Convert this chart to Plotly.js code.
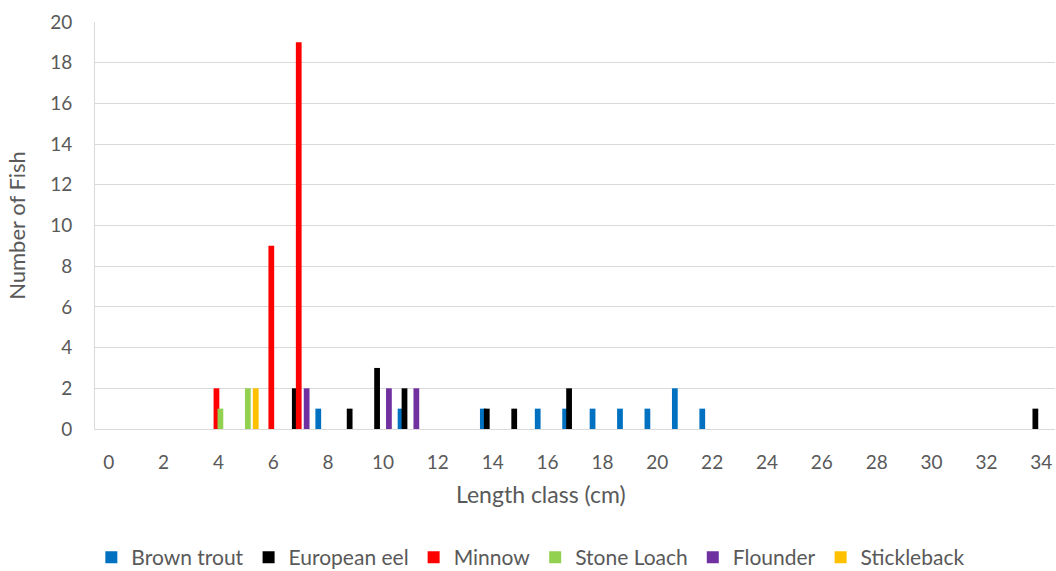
<!DOCTYPE html>
<html>
<head>
<meta charset="utf-8">
<script src="https://cdn.plot.ly/plotly-3.0.1.min.js"></script>
<style>
  html, body { margin: 0; padding: 0; background: #ffffff; }
  #chart { width: 1056px; height: 571px; }
</style>
</head>
<body>
<div id="chart"></div>
<script>
// Length classes (cm), one category per centimetre
const lengthClasses = Array.from({length: 35}, (_, i) => i);

// Number of fish caught in each length class, per species
const brownTrout  = [0,0,0,0,0,0,0,0,1,0,0,1,0,0,1,0,1,1,1,1,1,2,1,0,0,0,0,0,0,0,0,0,0,0,0];
const europeanEel = [0,0,0,0,0,0,0,2,0,1,3,2,0,0,1,1,0,2,0,0,0,0,0,0,0,0,0,0,0,0,0,0,0,0,1];
const minnow      = [0,0,0,0,2,0,9,19,0,0,0,0,0,0,0,0,0,0,0,0,0,0,0,0,0,0,0,0,0,0,0,0,0,0,0];
const stoneLoach  = [0,0,0,0,1,2,0,0,0,0,0,0,0,0,0,0,0,0,0,0,0,0,0,0,0,0,0,0,0,0,0,0,0,0,0];
const flounder    = [0,0,0,0,0,0,0,2,0,0,2,2,0,0,0,0,0,0,0,0,0,0,0,0,0,0,0,0,0,0,0,0,0,0,0];
const stickleback = [0,0,0,0,0,2,0,0,0,0,0,0,0,0,0,0,0,0,0,0,0,0,0,0,0,0,0,0,0,0,0,0,0,0,0];

const speciesNames  = ['Brown trout', 'European eel', 'Minnow', 'Stone Loach', 'Flounder', 'Stickleback'];
const speciesCounts = [brownTrout, europeanEel, minnow, stoneLoach, flounder, stickleback];
const speciesColors = ['#0070C0', '#000000', '#FF0000', '#92D050', '#7030A0', '#FFC000'];

const xTitle = 'Length class (cm)';
const yTitle = 'Number of Fish';

// Clustered columns that overlap slightly inside each length class
const barWidth = 0.21;
const barStep = 0.144;

const traces = speciesNames.map((name, i) => {
  const centre = (i - (speciesNames.length - 1) / 2) * barStep;
  return {
    type: 'bar',
    name: name,
    x: lengthClasses,
    y: speciesCounts[i],
    width: barWidth,
    offset: centre - barWidth / 2,
    marker: { color: speciesColors[i], line: { width: 0 } },
    hoverinfo: 'x+y+name'
  };
});

const textGrey = '#595959';
const lineGrey = '#d9d9d9';
const fontFamily = 'Lato, "Open Sans", sans-serif';

const layout = {
  width: 1056,
  height: 571,
  paper_bgcolor: '#ffffff',
  plot_bgcolor: '#ffffff',
  barmode: 'overlay',
  margin: { l: 95, r: 1, t: 22, b: 142, pad: 0, autoexpand: false },
  font: { family: fontFamily, color: textGrey, size: 19 },
  showlegend: true,
  legend: {
    orientation: 'h',
    x: 0.454,
    xanchor: 'center',
    y: -0.316,
    yanchor: 'middle',
    font: { size: 21, color: textGrey },
    itemwidth: 30,
    traceorder: 'normal'
  },
  // category axis title, centred under the chart area
  annotations: [{
    text: xTitle,
    xref: 'paper',
    yref: 'paper',
    x: 0.465,
    y: -0.16,
    xanchor: 'center',
    yanchor: 'middle',
    showarrow: false,
    font: { size: 23, color: textGrey }
  }],
  xaxis: {
    type: 'linear',
    range: [-0.5, 34.5],
    tickmode: 'linear',
    tick0: 0,
    dtick: 2,
    showgrid: false,
    zeroline: false,
    showline: true,
    linecolor: lineGrey,
    linewidth: 1,
    ticks: '',
    ticklabelstandoff: 16,
    tickfont: { size: 19, color: textGrey }
  },
  yaxis: {
    range: [0, 20],
    tickmode: 'linear',
    tick0: 0,
    dtick: 2,
    showgrid: true,
    gridcolor: lineGrey,
    gridwidth: 1,
    zeroline: false,
    showline: true,
    linecolor: lineGrey,
    linewidth: 1,
    ticks: '',
    ticklabelstandoff: 18,
    tickfont: { size: 19, color: textGrey },
    title: { text: yTitle, font: { size: 22, color: textGrey }, standoff: 18 }
  }
};

Plotly.newPlot('chart', traces, layout, { displayModeBar: false, staticPlot: true });
</script>
</body>
</html>
